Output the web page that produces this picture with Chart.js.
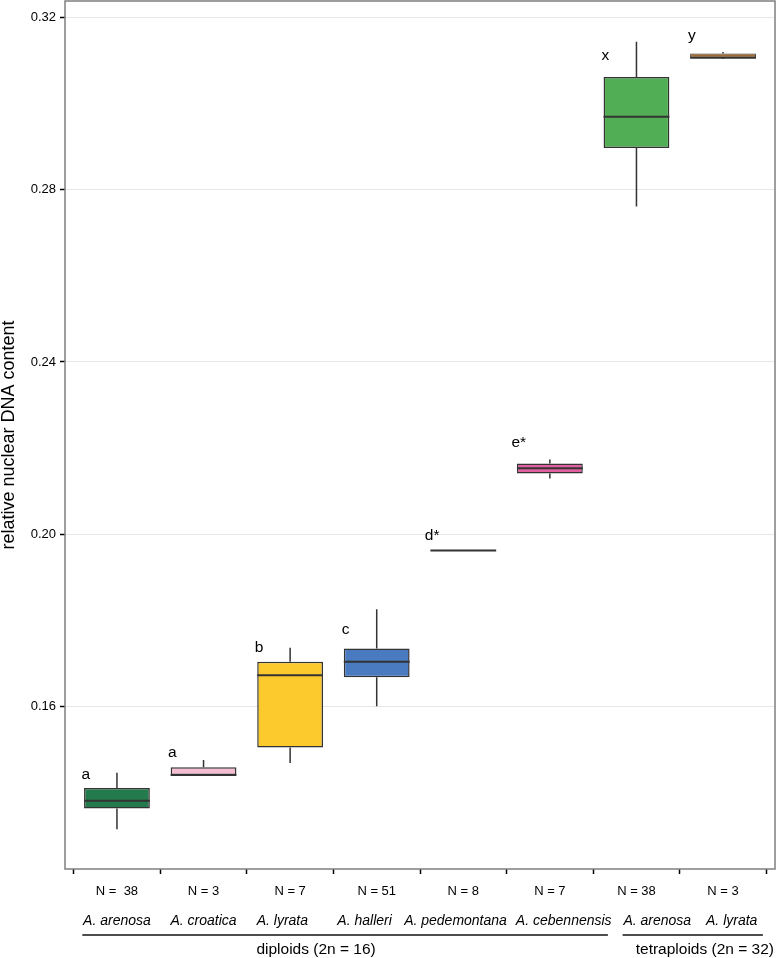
<!DOCTYPE html>
<html>
<head>
<meta charset="utf-8">
<script src="https://cdn.jsdelivr.net/npm/chart.js@4.4.0/dist/chart.umd.min.js"></script>
<style>
  html, body { margin: 0; padding: 0; background: #fff; }
  #wrap { width: 777px; height: 958px; }
</style>
</head>
<body>
<div id="wrap"><canvas id="chart" width="777" height="958"></canvas></div>
<script>
// Relative nuclear DNA content per species, boxplot drawn with floating bars

var positions = [1, 2, 3, 4, 5, 6, 7, 8];
var species = ['A. arenosa', 'A. croatica', 'A. lyrata', 'A. halleri',
  'A. pedemontana', 'A. cebennensis', 'A. arenosa', 'A. lyrata'];
// species names sit slightly off the ticks in the original
var speciesPos = [1, 2, 2.91, 3.86, 4.91, 6.16, 7.24, 8.1];
var nLabels = ['N =  38', 'N = 3', 'N = 7', 'N = 51', 'N = 8', 'N = 7', 'N = 38', 'N = 3'];

var whiskerLow  = [0.1314, 0.1440, 0.1468, 0.1600, 0.1962, 0.2129, 0.2761, 0.3104];
var q1          = [0.1362, 0.1440, 0.1504, 0.1667, 0.1962, 0.2141, 0.2897, 0.3107];
var median      = [0.1380, 0.1440, 0.1672, 0.1703, 0.1962, 0.2153, 0.2970, 0.3107];
var q3          = [0.1410, 0.1458, 0.1703, 0.1734, 0.1962, 0.2164, 0.3062, 0.3117];
var whiskerHigh = [0.1445, 0.1475, 0.1736, 0.1825, 0.1962, 0.2173, 0.3144, 0.3120];

var letters = ['a', 'a', 'b', 'c', 'd*', 'e*', 'x', 'y'];
var letterY = [0.1440, 0.1491, 0.1735, 0.1777, 0.1995, 0.2212, 0.3112, 0.3158];

var boxColors = ['#237a4c', '#f6bcd2', '#fdca2e', '#4a7bc1', '#e2609f', '#e2609f', '#52ae55', '#9e6a30'];

var groupNames = ['diploids (2n = 16)', 'tetraploids (2n = 32)'];
var groupFrom = [0.6, 6.84];
var groupTo = [6.67, 8.46];
var groupCenter = [3.3, 7.79];

var yTicks = { min: 0.12216, max: 0.32388, step: 0.04 };

Chart.defaults.font.family = '"Liberation Sans", Arial, Helvetica, sans-serif';
Chart.defaults.color = '#000';

var boxData = positions.map(function (p, i) {
  return { x: p, y: [q1[i], q3[i]] };
});

// whiskers, medians, letters, frame and the species/group labels
var boxExtras = {
  id: 'boxExtras',
  afterDatasetsDraw: function (chart) {
    var ctx = chart.ctx;
    var xs = chart.scales.x, ys = chart.scales.y;
    var bars = chart.getDatasetMeta(0).data;
    ctx.save();
    ctx.strokeStyle = '#333';
    positions.forEach(function (p, i) {
      var x = xs.getPixelForValue(p);
      var half = bars[i].width / 2;
      ctx.lineWidth = 1.5;
      ctx.beginPath();
      ctx.moveTo(x, ys.getPixelForValue(whiskerHigh[i]));
      ctx.lineTo(x, ys.getPixelForValue(q3[i]));
      ctx.moveTo(x, ys.getPixelForValue(q1[i]));
      ctx.lineTo(x, ys.getPixelForValue(whiskerLow[i]));
      ctx.stroke();
      ctx.lineWidth = 2;
      ctx.beginPath();
      var ym = ys.getPixelForValue(median[i]);
      ctx.moveTo(x - half, ym);
      ctx.lineTo(x + half, ym);
      ctx.stroke();
    });

    ctx.fillStyle = '#000';
    ctx.font = '15.5px "Liberation Sans", Arial, sans-serif';
    ctx.textAlign = 'center';
    ctx.textBaseline = 'middle';
    positions.forEach(function (p, i) {
      ctx.fillText(letters[i], xs.getPixelForValue(p - 0.36), ys.getPixelForValue(letterY[i]));
    });

    var a = chart.chartArea;
    ctx.strokeStyle = '#7f7f7f';
    ctx.lineWidth = 1.5;
    ctx.strokeRect(a.left, a.top, a.right - a.left, a.bottom - a.top);
    ctx.restore();
  },
  afterDraw: function (chart) {
    var ctx = chart.ctx;
    var xs = chart.scales.x;
    ctx.save();
    ctx.fillStyle = '#000';
    ctx.textAlign = 'center';
    ctx.textBaseline = 'middle';
    ctx.font = 'italic 14px "Liberation Sans", Arial, sans-serif';
    species.forEach(function (s, i) {
      ctx.fillText(s, xs.getPixelForValue(speciesPos[i]), 921);
    });
    ctx.strokeStyle = '#4d4d4d';
    ctx.lineWidth = 1.8;
    ctx.font = '15.5px "Liberation Sans", Arial, sans-serif';
    groupNames.forEach(function (g, i) {
      ctx.beginPath();
      ctx.moveTo(xs.getPixelForValue(groupFrom[i]), 935);
      ctx.lineTo(xs.getPixelForValue(groupTo[i]), 935);
      ctx.stroke();
      ctx.fillText(g, xs.getPixelForValue(groupCenter[i]), 950);
    });
    ctx.restore();
  }
};

new Chart(document.getElementById('chart'), {
  type: 'bar',
  data: {
    datasets: [{
      label: 'box',
      data: boxData,
      backgroundColor: boxColors,
      borderColor: '#333',
      borderWidth: [1.5, 1.5, 1.5, 1.5, 1.5, 1.5, 1.5, 1],
      borderSkipped: false,
      grouped: false,
      categoryPercentage: 1,
      barPercentage: 0.76
    }]
  },
  options: {
    responsive: false,
    animation: false,
    layout: { padding: { top: 1, right: 2, left: 0, bottom: 0 } },
    plugins: {
      legend: { display: false },
      tooltip: { enabled: false }
    },
    scales: {
      x: {
        type: 'linear',
        min: 0.4,
        max: 8.6,
        offset: false,
        border: { display: false },
        grid: { drawOnChartArea: false, tickLength: 5, tickColor: '#000', tickWidth: 1.5 },
        ticks: {
          stepSize: 1,
          includeBounds: false,
          autoSkip: false,
          maxRotation: 0,
          padding: 10,
          font: { size: 13 },
          callback: function (v) { return nLabels[Math.round(v) - 1] || ''; }
        },
        afterFit: function (s) {
          s.height = 89;
          s.paddingLeft = 0;
          s.paddingRight = 0;
        }
      },
      y: {
        min: yTicks.min,
        max: yTicks.max,
        border: { display: false },
        grid: { color: '#e6e6e6', lineWidth: 1, tickLength: 5, tickColor: '#000', tickWidth: 1.5 },
        ticks: {
          stepSize: yTicks.step,
          includeBounds: false,
          padding: 4,
          font: { size: 13 },
          callback: function (v) { return v.toFixed(2); }
        },
        title: {
          display: true,
          text: 'relative nuclear DNA content',
          font: { size: 18 },
          padding: { top: -2, bottom: 0 }
        },
        afterFit: function (s) {
          s.width = 65;
          s.paddingTop = 0;
          s.paddingBottom = 0;
        }
      }
    }
  },
  plugins: [boxExtras]
});
</script>
</body>
</html>
